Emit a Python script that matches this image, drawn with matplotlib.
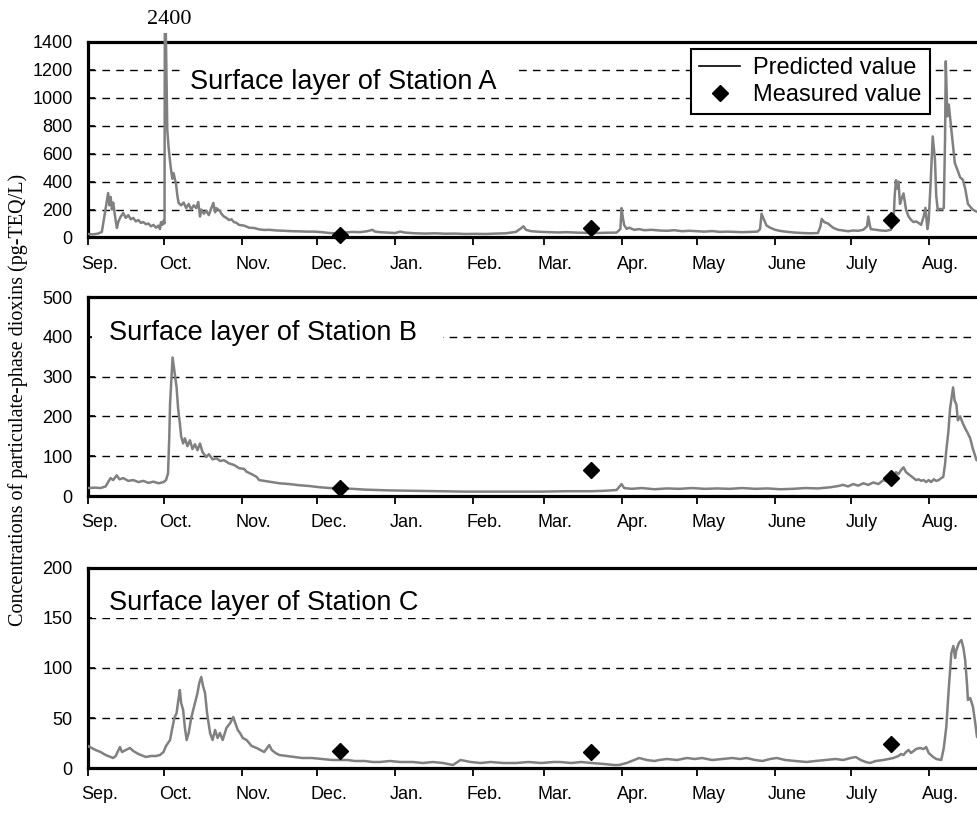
import matplotlib
matplotlib.use("Agg")
import matplotlib.pyplot as plt
from matplotlib.patches import Rectangle
from matplotlib.lines import Line2D

plt.rcParams['font.family'] = ['Liberation Sans', 'DejaVu Sans']

# ---------------- data (days counted from 1 Sep) ----------------
month_labels = ["Sep.", "Oct.", "Nov.", "Dec.", "Jan.", "Feb.", "Mar.", "Apr.",
                "May", "June", "July", "Aug."]
month_starts = [0, 30, 61, 91, 122, 153, 181, 212, 242, 273, 303, 334]

# Station A predicted
a_day = [0, 2, 4, 5.5, 6.5, 7.5, 8, 8.5, 9, 9.5, 10, 11, 11.5, 12, 13, 14, 15, 16, 17, 18,
         19, 20, 21, 22, 23, 24, 25, 26, 27, 28, 28.6, 29, 29.5, 30, 30.4, 30.6, 30.9, 31.5,
         32, 32.5, 33, 33.5, 34, 35, 35.5, 36, 37, 38, 39, 40, 41, 42, 43, 43.8, 44.5, 45,
         46, 47, 48, 49, 49.8, 50.5, 51, 52.4, 53, 54, 55, 56, 57, 58, 59, 60, 62, 64, 66,
         68, 70, 72, 75, 78, 81, 84, 87, 90, 93, 96, 98, 100, 102, 105, 108, 111, 113, 114,
         116, 119, 122, 124, 126, 130, 134, 138, 142, 146, 150, 154, 158, 162, 166, 170, 172,
         173, 174, 176, 180, 184, 187, 190, 194, 198, 202, 206, 210, 211.5, 212, 212.5, 213,
         214, 215, 217, 219, 221, 224, 227, 230, 233, 236, 239, 242, 245, 248, 251, 254, 257,
         260, 263, 266, 267, 267.6, 268.5, 269.6, 271, 273, 275, 278, 281, 284, 287, 290, 291,
         291.5, 292.5, 294, 296, 298, 300, 302, 304, 306, 308, 309.5, 310, 310.6, 311, 313,
         315, 317, 319, 320, 320.5, 321, 321.5, 322, 322.6, 323.3, 324, 325, 326, 327, 328,
         329, 330, 331, 332, 332.7, 333.2, 333.5, 334, 334.8, 335.6, 336.5, 337, 337.6, 338.5,
         339, 340, 340.5, 340.8, 341.4, 342, 343, 344, 344.4, 345.5, 346.5, 347.6, 348.5,
         349.6, 350.5, 351.5, 353, 354]
a_val = [25, 22, 28, 40, 150, 260, 318, 230, 290, 200, 250, 120, 68, 110, 150, 175, 140, 160,
         130, 140, 115, 125, 105, 110, 95, 100, 80, 90, 70, 85, 60, 110, 90, 120, 100, 2400,
         1500, 770, 650, 560, 484, 420, 460, 380, 300, 247, 230, 250, 210, 240, 200, 230, 210,
         254, 150, 200, 170, 190, 160, 210, 247, 180, 210, 190, 170, 150, 140, 125, 130, 110,
         105, 90, 85, 70, 68, 58, 54, 55, 50, 48, 45, 44, 42, 42, 38, 32, 30, 28, 35, 40, 38,
         45, 55, 42, 38, 35, 32, 42, 35, 30, 28, 30, 27, 28, 25, 26, 25, 28, 30, 40, 65, 80, 55,
         45, 40, 38, 36, 38, 35, 33, 32, 34, 35, 60, 210, 140, 90, 62, 70, 55, 60, 52, 55, 50,
         48, 52, 45, 48, 45, 42, 46, 40, 42, 40, 38, 40, 42, 60, 170, 130, 85, 70, 55, 47, 40,
         35, 32, 30, 32, 80, 133, 110, 100, 70, 55, 50, 45, 50, 48, 55, 80, 150, 90, 60, 55,
         50, 48, 55, 100, 300, 410, 350, 400, 240, 280, 315, 200, 150, 126, 110, 115, 104, 90,
         150, 212, 120, 60, 120, 400, 723, 556, 300, 197, 205, 200, 210, 700, 1260, 866, 950,
         771, 600, 532, 480, 430, 412, 350, 240, 220, 200, 185, 190]

# Station B predicted
b_day = [0, 3, 5, 7, 8, 9, 10, 11.4, 12.5, 14, 16, 18, 20, 22, 24, 26, 28, 30, 31, 31.8,
         32.3, 32.6, 33.2, 33.6, 34.2, 34.8, 35.2, 35.8, 36.5, 37, 37.8, 38.5, 39.5, 40.5,
         41.5, 42.5, 43.5, 44.5, 45.5, 47, 48, 49.5, 51, 52.5, 54, 56, 58, 60, 62, 63, 65, 67,
         68, 70, 73, 76, 80, 84, 88, 92, 96, 100, 105, 110, 115, 120, 130, 140, 150, 160, 170,
         180, 190, 200, 205, 210, 212, 213, 216, 220, 225, 230, 235, 240, 245, 250, 255, 260,
         265, 270, 275, 280, 285, 290, 295, 298, 300, 302, 304, 306, 308, 310, 312, 314, 316,
         318, 320, 321, 322, 323, 324, 325, 326, 327, 328, 329, 330, 331, 332, 333, 334, 335,
         336, 337, 338, 339, 339.8, 340.5, 341, 341.8, 342.5, 343.2, 343.7, 344.3, 345, 345.6,
         346.5, 347.6, 348.5, 349.6, 350.5, 351.5, 352.5, 353, 354]
b_val = [20, 21, 20, 24, 35, 45, 40, 52, 42, 45, 38, 40, 35, 38, 33, 36, 32, 35, 40, 57, 150,
         232, 300, 348, 320, 290, 273, 220, 182, 150, 132, 145, 125, 140, 118, 130, 115, 132,
         110, 98, 105, 92, 95, 88, 90, 82, 78, 70, 68, 61, 55, 48, 40, 38, 35, 32, 30, 27, 25,
         22, 20, 19, 18, 16, 15, 14, 13, 12, 11, 11, 11, 11, 12, 12, 13, 15, 30, 20, 18, 20, 17,
         19, 18, 20, 18, 19, 18, 20, 18, 19, 17, 18, 20, 19, 22, 25, 28, 24, 30, 26, 32, 28, 34,
         30, 40, 35, 45, 60, 55, 65, 72, 60, 55, 50, 45, 40, 42, 38, 40, 35, 40, 35, 42, 38, 40,
         45, 48, 80, 115, 160, 220, 250, 273, 240, 230, 190, 200, 182, 170, 157, 145, 120, 100,
         90, 88]

# Station C predicted
c_day = [0, 1.5, 3, 5, 7, 9, 10, 11, 12.7, 13.5, 15, 16.7, 18, 20, 22, 23, 25, 27, 28.6, 30,
         31, 32.6, 33.5, 34.3, 35.2, 36, 36.5, 37, 37.8, 38.5, 39.2, 40, 41, 42, 42.5, 43.5,
         44.2, 45, 45.7, 46.5, 47.3, 48.5, 49.5, 50.5, 51.5, 52.4, 53.5, 55, 56.5, 57.7, 58.5,
         59.5, 60.4, 61.5, 63, 65, 67, 68.5, 70, 72, 73, 74.5, 76, 79, 82, 85, 89, 93, 97, 100,
         103, 106, 110, 113, 116, 120, 124, 129, 133, 137, 141, 145, 148, 152, 156, 160, 165,
         170, 175, 180, 185, 187.5, 192, 196, 200, 205, 209, 211, 214, 217, 219, 222, 225, 227,
         230, 234, 238, 241, 244, 248, 252, 256, 259, 261.7, 265, 268, 271, 273.6, 277, 281,
         285.5, 289, 293, 297, 300, 303, 305, 307, 309, 310.7, 313, 316, 318, 320, 322, 323,
         324, 325, 326, 327, 328, 329, 330.5, 332, 333, 334, 335.8, 337, 339, 340, 341, 342,
         343, 343.8, 344.5, 345, 346, 347, 347.8, 348.5, 349.2, 349.6, 350.5, 351.6, 352.5,
         353.2, 354]
c_val = [22, 20, 18, 16, 13, 11, 10, 12, 21, 16, 18, 20, 17, 14, 12, 11, 12, 12, 13, 16, 22,
         28, 40, 50, 55, 70, 78, 65, 58, 40, 28, 35, 50, 60, 65, 75, 85, 91, 82, 75, 55, 35, 28,
         38, 30, 35, 28, 40, 45, 51, 45, 38, 35, 30, 28, 22, 20, 18, 16, 23, 18, 15, 13, 12, 11,
         10, 10, 9, 8, 8, 8, 7, 7, 6, 6, 7, 6, 6, 5, 6, 5, 3, 8, 6, 5, 6, 5, 5, 6, 5, 6, 6, 5, 6,
         5, 4, 3, 3, 5, 8, 10, 8, 7, 8, 9, 8, 10, 9, 10, 8, 9, 10, 9, 10, 8, 7, 9, 10, 8, 7, 6,
         7, 8, 9, 8, 10, 11, 8, 6, 5, 7, 8, 9, 10, 12, 14, 13, 16, 18, 15, 17, 19, 20, 19, 21,
         15, 11, 9, 8, 20, 41, 80, 115, 122, 110, 118, 125, 128, 120, 108, 85, 68, 70, 61, 45,
         31, 30]

# Measured values
meas_day = [100, 200, 319]
a_meas = [15, 70, 125]
b_meas = [20, 65, 45]
c_meas = [17, 16, 24]

titles = ["Surface layer of Station A", "Surface layer of Station B",
          "Surface layer of Station C"]
y_max = [1400, 500, 200]
y_step = [200, 100, 50]

# ---------------- figure ----------------
W, H = 978, 813
fig = plt.figure(figsize=(W / 100, H / 100), dpi=100)

def fx(px):
    return px / W

def fy(py):
    return 1 - py / H

left_px = 88
panels = [(41.7, 237.5), (297, 496), (568, 768)]
xmax = (978 - left_px) / 2.517

series = [(a_day, a_val, a_meas), (b_day, b_val, b_meas), (c_day, c_val, c_meas)]
title_pos = [(190, 82, 183, 517), (109, 333, 92, 443), (109, 603, 92, 445)]

axes = []
for i, (top, bot) in enumerate(panels):
    ax = fig.add_axes([fx(left_px), fy(bot), 1 - fx(left_px), (bot - top) / H])
    axes.append(ax)
    d, v, m = series[i]
    ln, = ax.plot(d, v, color='#808080', lw=1.8, zorder=3, solid_joinstyle='round')
    if i == 0:
        clip = Rectangle((0, 0), 1, 1.045, transform=ax.transAxes)
        ln.set_clip_path(clip)
    ax.plot(meas_day, m, linestyle='none', marker='D', color='black', markersize=8.5,
            zorder=4, clip_on=False)
    ax.set_xlim(0, xmax)
    ax.set_ylim(0, y_max[i])
    ticks = list(range(0, y_max[i] + 1, y_step[i]))
    ax.set_yticks(ticks)
    ax.set_yticklabels([str(t) for t in ticks], fontsize=13)
    ax.tick_params(axis='y', direction='in', length=5, width=1.2, pad=11)
    # gridlines
    for t in ticks[1:-1]:
        ax.axhline(t, color='black', lw=1.0, linestyle=(0, (5.5, 4.5)), zorder=1)
    # x axis: month ticks and labels
    ax.set_xticks(month_starts)
    ax.set_xticklabels([])
    ax.tick_params(axis='x', which='major', direction='out', length=6, width=1.3)
    ax.set_xticks([s + 4.6 for s in month_starts], minor=True)
    ax.set_xticklabels(month_labels, minor=True, fontsize=13)
    ax.tick_params(axis='x', which='minor', length=0, pad=13)
    for s in ['top', 'left', 'bottom']:
        ax.spines[s].set_linewidth(2.3)
        ax.spines[s].set_color('black')
    ax.spines['right'].set_visible(False)
    # title with white backing
    tx, tyc, rx0, rx1 = title_pos[i]
    ty = (bot - tyc) / (bot - top)
    ax.add_patch(Rectangle(((rx0 - left_px) / (W - left_px), ty - 0.075),
                           (rx1 - rx0) / (W - left_px), 0.15,
                           transform=ax.transAxes, facecolor='white', edgecolor='none',
                           zorder=2))
    ax.text((tx - left_px) / (W - left_px), ty, titles[i], transform=ax.transAxes,
            fontsize=19.5, ha='left', va='center', zorder=5)

# legend in top panel
handles = [Line2D([], [], color='black', lw=1.2),
           Line2D([], [], linestyle='none', marker='D', color='black', markersize=8.5)]
leg = axes[0].legend(handles, ["Predicted value", "Measured value"],
                     loc='upper right', bbox_to_anchor=(fx(930), fy(49)),
                     bbox_transform=fig.transFigure, borderaxespad=0, fontsize=17,
                     handlelength=1.75, handletextpad=0.55, labelspacing=0.2,
                     borderpad=0.35, fancybox=False, framealpha=1, edgecolor='black')
leg.get_frame().set_linewidth(1.5)
leg.set_zorder(6)

# spike annotation
fig.text(fx(169), fy(20), "2400", family=['Liberation Serif', 'DejaVu Serif'],
         fontsize=16, ha='center', va='center')

# y label
fig.text(fx(18), fy(400), "Concentrations of particulate-phase dioxins (pg-TEQ/L)",
         family=['Liberation Serif', 'DejaVu Serif'], fontsize=14.5, rotation=90,
         ha='center', va='center')

fig.savefig("out.png", dpi=100)
